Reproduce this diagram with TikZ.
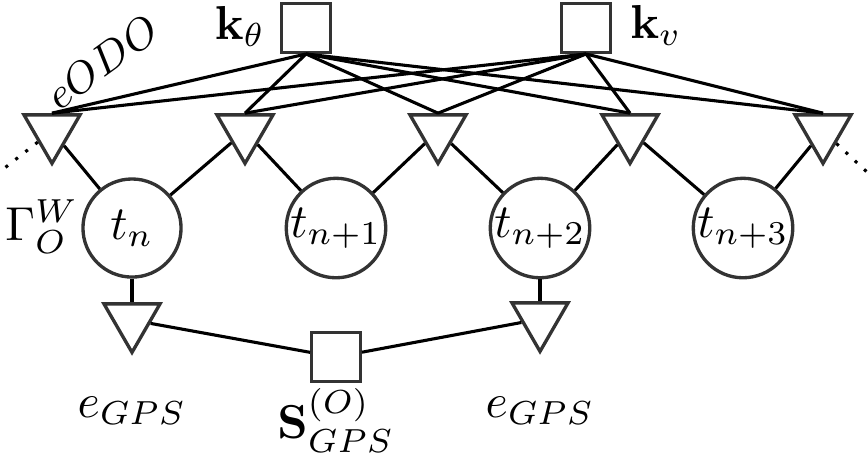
\documentclass[tikz,border=0pt]{standalone}
\usetikzlibrary{shapes.geometric}
\begin{document}
\begin{tikzpicture}[x=0.21pt,y=-0.21pt,
  sq/.style={draw=black!80,line width=0.7pt,rectangle,minimum size=10.2pt,inner sep=0pt},
  var/.style={draw=black!80,line width=0.7pt,circle,minimum size=20.6pt,inner sep=0pt},
  tri/.style={draw=black!80,line width=0.7pt,regular polygon,regular polygon sides=3,shape border rotate=180,minimum size=13.6pt,inner sep=0pt},
  edge/.style={line width=0.65pt,black},
  dotedge/.style={line width=0.65pt,black,dotted}]
\useasboundingbox (0,0) rectangle (868,456);
% factors top
\node[sq] (kth) at (306,28) {};
\node[sq] (kv) at (586,28) {};
% top triangles
\node[tri] (t1) at (52,131) {};
\node[tri] (t2) at (245,131) {};
\node[tri] (t3) at (438,131) {};
\node[tri] (t4) at (630,131) {};
\node[tri] (t5) at (823,131) {};
% variables
\node[var] (c1) at (132,228) {$t_n$};
\node[var] (c2) at (336,228) {$t_{n+1}$};
\node[var] (c3) at (540,228) {$t_{n+2}$};
\node[var] (c4) at (743,228) {$t_{n+3}$};
% bottom triangles and factor
\node[tri] (b1) at (132,320) {};
\node[tri] (b2) at (540,319) {};
\node[sq] (S) at (336,357) {};
% dotted ends
\coordinate (dl) at (2,170);
\coordinate (dr) at (868,173);
% labels
\node[anchor=base] (lkth) at (240,39) {$\mathbf{k}_\theta$};
\node[anchor=base] (lkv) at (656,38) {$\mathbf{k}_v$};
\node[rotate=36,font=\small] (lodo) at (102,62) {$eODO$};
\node[anchor=base] (lgam) at (42,240) {$\Gamma_O^W$};
\node[anchor=base] (lg1) at (132,417) {$e_{GPS}$};
\node[anchor=base] (lg2) at (540,417) {$e_{GPS}$};
\node[anchor=base] (lS) at (336,438) {$\mathbf{S}_{GPS}^{(O)}$};
% connectors from top factors
\foreach \t in {t1,t2,t3,t4,t5} {
  \draw[edge] (kth.south) -- (\t.90);
  \draw[edge] (kv.south) -- (\t.90);
}
% triangle-variable
\draw[edge] (t1) -- (c1);
\draw[edge] (t2) -- (c1);
\draw[edge] (t2) -- (c2);
\draw[edge] (t3) -- (c2);
\draw[edge] (t3) -- (c3);
\draw[edge] (t4) -- (c3);
\draw[edge] (t4) -- (c4);
\draw[edge] (t5) -- (c4);
\draw[dotedge] (t1) -- (dl);
\draw[dotedge] (t5) -- (dr);
% GPS
\draw[edge] (c1) -- (b1);
\draw[edge] (c3) -- (b2);
\draw[edge] (b1) -- (S);
\draw[edge] (S) -- (b2);
\end{tikzpicture}
\end{document}
